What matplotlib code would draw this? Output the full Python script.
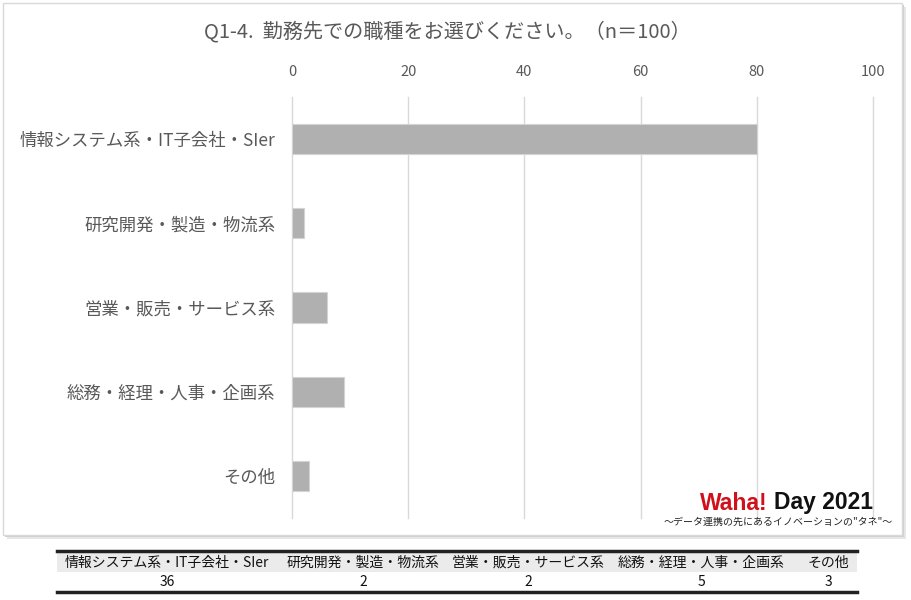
import matplotlib.pyplot as plt
from matplotlib.patches import Rectangle
from matplotlib.lines import Line2D

plt.rcParams['font.family'] = ['Noto Sans CJK JP', 'DejaVu Sans']

# data
categories = ['情報システム系・IT子会社・SIer', '研究開発・製造・物流系',
              '営業・販売・サービス系', '総務・経理・人事・企画系', 'その他']
values = [80, 2, 6, 9, 3]
table_values = ['36', '2', '2', '5', '3']
x_ticks = [0, 20, 40, 60, 80, 100]
title = 'Q1-4.  勤務先での職種をお選びください。（n＝100）'

W, H = 912, 600
fig = plt.figure(figsize=(W / 100, H / 100), dpi=100)


def fx(px):
    return px / W


def fy(py):
    return 1 - py / H


# chart frame with soft shadow
for off, col in [(4, '#e6e6e6'), (2, '#d0d0d0')]:
    fig.patches.append(Rectangle((fx(3 + off), fy(535 + off)), fx(899), 532 / H,
                                 transform=fig.transFigure, facecolor=col,
                                 edgecolor='none', zorder=-2))
fig.patches.append(Rectangle((fx(3), fy(535)), fx(899), 532 / H,
                             transform=fig.transFigure, facecolor='white',
                             edgecolor='#d9d9d9', linewidth=1, zorder=-1))

ax = fig.add_axes([fx(292), fy(518), fx(873 - 292), (518 - 97) / H])
ax.set_zorder(2)
ax.set_facecolor('none')
ypos = list(range(len(categories)))
ax.barh(ypos, values, height=0.36, color='#b0b0b0', edgecolor='#d4d4d4',
        linewidth=0.8, zorder=3)
ax.set_xlim(0, 100)
ax.set_ylim(len(categories) - 0.5, -0.5)
ax.set_xticks(x_ticks)
ax.xaxis.tick_top()
ax.tick_params(axis='x', length=0, pad=13, labelsize=10.5, labelcolor='#595959')
ax.tick_params(axis='y', length=0, pad=12, labelsize=12.5, labelcolor='#595959')
ax.set_yticks(ypos)
ax.set_yticklabels(categories)
ax.grid(axis='x', color='#d9d9d9', linewidth=1, zorder=0)
for gl in ax.get_xgridlines():
    gl.set_clip_on(False)
for s in ax.spines.values():
    s.set_visible(False)

fig.text(fx(447), fy(32), title, ha='center', va='center', fontsize=14.5,
         color='#595959')

# logo
fig.text(fx(768), fy(503), 'Waha!', ha='right', va='center', fontsize=16.5,
         fontweight='heavy', color='#d0101a', family=['Liberation Sans'])
fig.text(fx(774), fy(503), 'Day 2021', ha='left', va='center', fontsize=16.5,
         fontweight='heavy', color='#111111', family=['Liberation Sans'])
fig.text(fx(893), fy(522), '～データ連携の先にあるイノベーションの"タネ"～',
         ha='right', va='center', fontsize=7.2, color='#222222')

# summary table below the chart
fig.patches.append(Rectangle((fx(57), fy(572)), fx(800), 19 / H,
                             transform=fig.transFigure, facecolor='#ebebeb',
                             edgecolor='none', zorder=1))
for yy in [551, 592]:
    fig.add_artist(Line2D([fx(57), fx(857)], [fy(yy), fy(yy)], color='#222222',
                          linewidth=2.5))
col_centers = [167, 363, 528, 701, 828]
for cx, cat, val in zip(col_centers, categories, table_values):
    fig.text(fx(cx), fy(563), cat, ha='center', va='center', fontsize=10,
             color='#111111')
    fig.text(fx(cx), fy(582), val, ha='center', va='center', fontsize=10,
             color='#111111')

fig.savefig('out.png', dpi=100)
